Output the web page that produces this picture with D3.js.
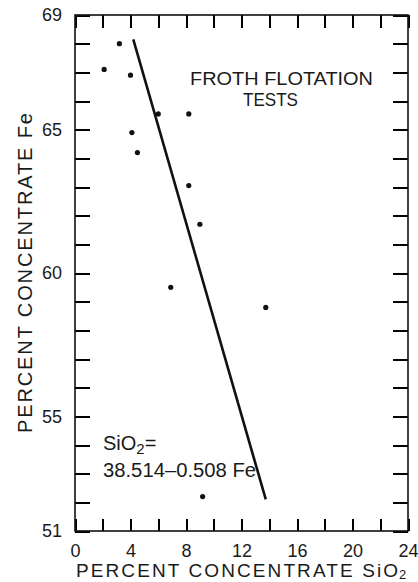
<!DOCTYPE html>
<html>
<head>
<meta charset="utf-8">
<script src="https://cdn.jsdelivr.net/npm/d3@7"></script>
<style>
  html, body { margin: 0; padding: 0; background: #fff; }
  svg { display: block; }
  text { font-family: "Liberation Sans", Arial, Helvetica, sans-serif; fill: #1a1a1a; }
</style>
</head>
<body>
<script>
// ---- Data ----
const silicaPct = [3.2, 2.1, 4.0, 6.0, 8.2, 4.1, 4.5, 8.2, 9.0, 6.9, 13.75, 9.2];
const ironPct   = [68.0, 67.1, 66.9, 65.55, 65.55, 64.9, 64.2, 63.05, 61.7, 59.5, 58.8, 52.2];
const fitSilica = [4.2, 13.75];
const fitIron   = [68.15, 52.1];
const xTickValues = [0, 2, 4, 6, 8, 10, 12, 14, 16, 18, 20, 22, 24];
const xTickLabels = [0, 4, 8, 12, 16, 20, 24];
const yTickValues = [51, 52, 53, 54, 55, 56, 57, 58, 59, 60, 61, 62, 63, 64, 65, 66, 67, 68, 69];
const yTickLabels = [51, 55, 60, 65, 69];
const titleLines = ["FROTH FLOTATION", "TESTS"];
const xTitle = ["PERCENT CONCENTRATE SiO", "2"];
const yTitle = "PERCENT CONCENTRATE Fe";
const eqLine1 = ["SiO", "2", "="];
const eqLine2 = "38.514\u20130.508 Fe";

// ---- Layout ----
const W = 418, H = 582;
const m = { left: 75, top: 15, right: 10, bottom: 51 };
const iw = W - m.left - m.right, ih = H - m.top - m.bottom;
const ink = "#111";
const FONT = '"Liberation Sans", Arial, Helvetica, sans-serif';

const svg = d3.select("body").append("svg").attr("width", W).attr("height", H)
  .attr("viewBox", `0 0 ${W} ${H}`);

const x = d3.scaleLinear().domain([0, 24]).range([m.left, m.left + iw]);
const y = d3.scaleLinear().domain([51, 69]).range([m.top + ih, m.top]);
const L = m.left, R = m.left + iw, T = m.top, B = m.top + ih;

// bottom axis: inward ticks every 2, labels every 4
svg.append("g").attr("class", "axis-bottom").attr("transform", `translate(0,${B})`)
  .call(d3.axisBottom(x).tickValues(xTickValues).tickSizeInner(-12).tickSizeOuter(0)
    .tickPadding(13).tickFormat(d => xTickLabels.includes(d) ? String(d) : ""));
// top axis: inward ticks
svg.append("g").attr("class", "axis-top").attr("transform", `translate(0,${T})`)
  .call(d3.axisTop(x).tickValues(xTickValues).tickSizeInner(-13).tickSizeOuter(0).tickFormat(() => ""));
// left axis: inward ticks every 1, labels at selected values
svg.append("g").attr("class", "axis-left").attr("transform", `translate(${L},0)`)
  .call(d3.axisLeft(y).tickValues(yTickValues).tickSizeInner(-15).tickSizeOuter(0)
    .tickPadding(13).tickFormat(d => yTickLabels.includes(d) ? String(d) : ""));
// right axis: inward ticks
svg.append("g").attr("class", "axis-right").attr("transform", `translate(${R},0)`)
  .call(d3.axisRight(y).tickValues(yTickValues).tickSizeInner(-15).tickSizeOuter(0).tickFormat(() => ""));

svg.selectAll(".axis-bottom, .axis-top, .axis-left, .axis-right")
  .attr("color", ink)
  .call(s => s.selectAll(".domain").attr("stroke", "none"))
  .call(s => s.selectAll(".tick line").attr("stroke", "#000").attr("stroke-width", 2)
                .attr("shape-rendering", "crispEdges").attr("opacity", 1))
  .call(s => s.selectAll(".tick text").attr("font-size", 18).attr("fill", ink).attr("font-family", FONT));

// frame
svg.append("rect").attr("x", L).attr("y", T).attr("width", iw).attr("height", ih)
  .attr("fill", "none").attr("stroke", ink).attr("stroke-width", 1.6);

// fit line
const fitPts = fitSilica.map((s, i) => [s, fitIron[i]]);
svg.append("path").datum(fitPts)
  .attr("d", d3.line().x(d => x(d[0])).y(d => y(d[1])))
  .attr("fill", "none").attr("stroke", ink).attr("stroke-width", 2.6);

// points
svg.selectAll("circle.pt").data(silicaPct.map((s, i) => [s, ironPct[i]]))
  .join("circle").attr("class", "pt")
  .attr("cx", d => x(d[0])).attr("cy", d => y(d[1])).attr("r", 2.6)
  .attr("fill", ink);

// annotation title
svg.append("text").attr("x", 190).attr("y", 85).attr("font-size", 18)
  .attr("textLength", 183).attr("lengthAdjust", "spacingAndGlyphs").text(titleLines[0]);
svg.append("text").attr("x", 243).attr("y", 106).attr("font-size", 18)
  .attr("textLength", 55).attr("lengthAdjust", "spacingAndGlyphs").text(titleLines[1]);

// equation
const eq = svg.append("text").attr("x", 103).attr("y", 450).attr("font-size", 20);
eq.append("tspan").text(eqLine1[0]);
eq.append("tspan").attr("font-size", 15).attr("dy", 4).text(eqLine1[1]);
eq.append("tspan").attr("dy", -4).text(eqLine1[2]);
svg.append("text").attr("x", 103).attr("y", 477).attr("font-size", 20)
  .attr("textLength", 153).attr("lengthAdjust", "spacingAndGlyphs").text(eqLine2);

// x title
svg.append("text").attr("x", 76).attr("y", 577).attr("font-size", 19)
  .attr("textLength", 322).attr("lengthAdjust", "spacing").text(xTitle[0]);
svg.append("text").attr("x", 399).attr("y", 579).attr("font-size", 13).text(xTitle[1]);

// y title
svg.append("text").attr("transform", "translate(32,273) rotate(-90)")
  .attr("text-anchor", "middle").attr("font-size", 20)
  .attr("textLength", 320).attr("lengthAdjust", "spacing").text(yTitle);
</script>
</body>
</html>
